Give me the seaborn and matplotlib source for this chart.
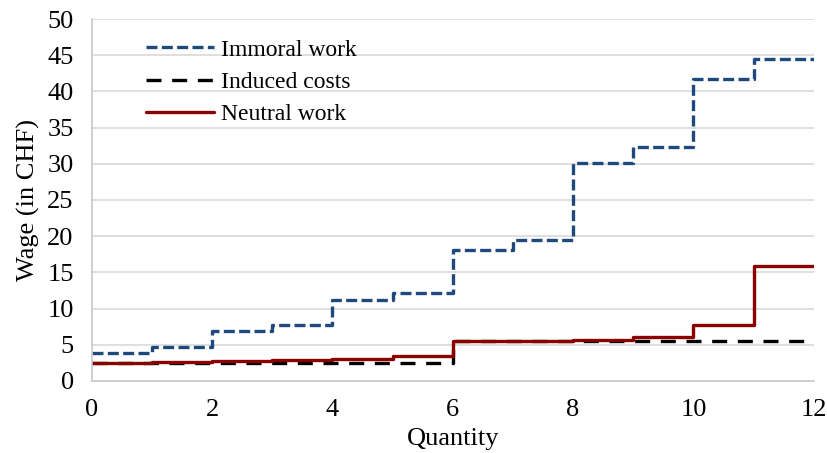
import numpy as np
import pandas as pd
import matplotlib
matplotlib.use("Agg")
import matplotlib.pyplot as plt
import seaborn as sns

# --- step values (last value repeated so the final step reaches 12)
quantity = [0, 1, 2, 3, 4, 5, 6, 7, 8, 9, 10, 11, 12]
immoralWork = [3.8, 4.7, 6.9, 7.7, 11.2, 12.1, 18.1, 19.5, 30.1, 32.3, 41.7, 44.5, 44.5]
inducedCosts = [2.5, 2.5, 2.5, 2.5, 2.5, 2.5, 5.5, 5.5, 5.5, 5.5, 5.5, 5.5, 5.5]
neutralWork = [2.5, 2.6, 2.7, 2.85, 3.0, 3.45, 5.5, 5.5, 5.7, 6.1, 7.7, 15.9, 15.9]

seriesNames = ["Immoral work", "Induced costs", "Neutral work"]
xTicks = [0, 2, 4, 6, 8, 10, 12]
yTicks = [0, 5, 10, 15, 20, 25, 30, 35, 40, 45, 50]

df = pd.DataFrame({
    "Quantity": quantity * 3,
    "Wage": immoralWork + inducedCosts + neutralWork,
    "Series": [seriesNames[0]] * 13 + [seriesNames[1]] * 13 + [seriesNames[2]] * 13,
})

sns.set_style("white")
plt.rcParams["font.family"] = ["Liberation Serif", "DejaVu Serif"]
plt.rcParams["text.color"] = "black"
plt.rcParams["axes.labelcolor"] = "black"
plt.rcParams["xtick.color"] = "black"
plt.rcParams["ytick.color"] = "black"

fig, ax = plt.subplots(figsize=(8.27, 4.53), dpi=100)
fig.subplots_adjust(left=0.111, right=0.984, top=0.958, bottom=0.159)

palette = {"Immoral work": "#1F497D", "Induced costs": "#000000", "Neutral work": "#8B0000"}
dashes = {"Immoral work": (3.3, 1.3), "Induced costs": (4.5, 3.2), "Neutral work": ""}

sns.lineplot(
    ax=ax, data=df, x="Quantity", y="Wage"
    , hue="Series", style="Series", hue_order=seriesNames, style_order=seriesNames
    , palette=palette, dashes=dashes, linewidth=2.4, drawstyle="steps-post"
)

ax.set_xlim(0, 12)
ax.set_ylim(0, 50)
ax.set_xticks(xTicks)
ax.set_yticks(yTicks)
ax.tick_params(axis="both", length=0, labelsize=19, pad=13)
ax.grid(axis="y", color="#d9d9d9", linewidth=1.2)
ax.set_axisbelow(True)
for side in ["top", "right"]:
    ax.spines[side].set_visible(False)
for side in ["left", "bottom"]:
    ax.spines[side].set_color("#c8c8c8")
    ax.spines[side].set_linewidth(1.2)

ax.set_xlabel("Quantity", fontsize=19, labelpad=5)
ax.set_ylabel("Wage (in CHF)", fontsize=19, labelpad=5)

leg = ax.legend(
    loc="upper left", bbox_to_anchor=(0.045, 1.003), frameon=False
    , fontsize=17, handlelength=2.9, handletextpad=0.3, labelspacing=0.45
)

plt.savefig("out.png", dpi=100)
plt.close()
